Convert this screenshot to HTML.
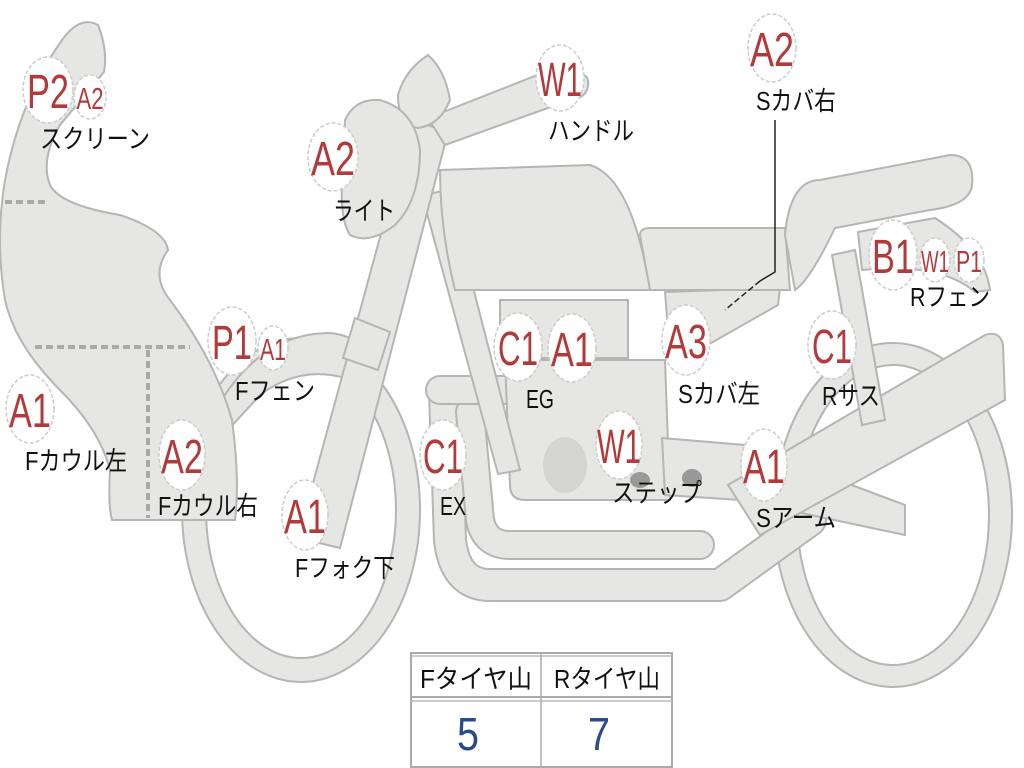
<!DOCTYPE html>
<html><head><meta charset="utf-8"><style>
html,body{margin:0;padding:0;background:#fff;width:1024px;height:768px;overflow:hidden}
svg{display:block}
.b{fill:#e6e6e4;stroke:#b5b5b5;stroke-width:2}
.l{font-family:"Liberation Sans","Noto Sans CJK JP",sans-serif;fill:#111;font-size:26px}
.r{font-family:"Liberation Sans",sans-serif;fill:#b23a3a}
.c{fill:#fff;stroke:#ccc;stroke-width:1.5;stroke-dasharray:4 2}
</style></head><body>
<svg width="1024" height="768" viewBox="0 0 1024 768">
<ellipse cx="301" cy="510" rx="119" ry="172" class="b"/>
<ellipse cx="301" cy="510" rx="95" ry="148" fill="#fff" stroke="#b5b5b5" stroke-width="2"/>
<ellipse cx="893" cy="515" rx="119" ry="172" class="b"/>
<ellipse cx="893" cy="515" rx="96" ry="150" fill="#fff" stroke="#b5b5b5" stroke-width="2"/>
<g fill="none" stroke-linejoin="round" stroke-linecap="round">
<path d="M445 392 L450 540 Q455 585 490 585 L720 585 L810 520" stroke="#b5b5b5" stroke-width="34"/>
<path d="M445 392 L450 540 Q455 585 490 585 L720 585 L810 520" stroke="#e6e6e4" stroke-width="30"/>
<path d="M470 412 L480 520 Q485 545 510 545 L700 545" stroke="#b5b5b5" stroke-width="30"/>
<path d="M470 412 L480 520 Q485 545 510 545 L700 545" stroke="#e6e6e4" stroke-width="26"/>
<path d="M440 390 L510 390" stroke="#b5b5b5" stroke-width="30"/>
<path d="M440 390 L510 390" stroke="#e6e6e4" stroke-width="26"/>
</g>
<path class="b" d="M505 360 L665 360 L670 500 L525 500 Q510 500 510 485 Z"/>
<rect class="b" x="500" y="300" width="128" height="58"/>
<ellipse cx="565" cy="465" rx="22" ry="28" fill="#d4d4d2"/>
<path class="b" d="M662 438 L745 445 L905 505 L905 535 L740 500 L665 495 Z"/>
<path class="b" d="M728 485 L985 335 Q1000 330 1003 345 L1005 400 L760 535 Z"/>
<ellipse cx="640" cy="480" rx="10" ry="8" fill="#999"/><ellipse cx="692" cy="478" rx="10" ry="9" fill="#999"/>
<path class="b" d="M832 255 L855 250 L885 420 L862 425 Z"/>
<path class="b" d="M858 232 L935 218 Q985 250 990 290 L975 292 Q940 262 862 270 Z"/>
<path class="b" d="M422 195 L448 190 L520 470 L498 474 Z"/>
<path class="b" d="M665 292 L780 288 L778 305 L690 355 L670 355 Z"/>
<path class="b" d="M440 170 L590 165 Q632 178 650 290 L455 290 Q440 230 440 170 Z"/>
<path class="b" d="M640 235 Q640 228 650 228 L785 228 L790 290 L650 290 Z"/>
<path class="b" d="M785 235 Q790 180 820 180 L950 155 Q975 155 972 185 Q970 205 930 210 L835 228 Q810 280 795 290 Z"/>
<path class="b" d="M210 420 Q255 333 330 333 Q350 335 360 345 L345 378 Q300 365 260 395 L228 430 Z"/>
<path class="b" d="M62 40 Q80 15 98 25 Q108 50 104 72 L60 125 Q40 160 50 185 Q60 205 120 215 Q165 230 168 250 Q150 275 170 300 Q215 360 232 420 Q240 480 235 520 L112 520 Q108 505 110 470 Q100 430 60 390 Q15 345 5 300 Q-5 240 5 180 Q20 100 62 40 Z"/>
<g stroke="#aaa" stroke-width="4" stroke-dasharray="7 4" fill="none">
<path d="M5 202 L48 202"/><path d="M35 347 L190 347"/><path d="M148 350 L148 518"/>
</g>
<path class="b" d="M412 120 L448 132 L340 548 L298 538 Z"/>
<path class="b" d="M355 318 L390 332 L378 370 L343 358 Z"/>
<path class="b" d="M428 118 L545 72 Q585 68 588 80 Q590 98 570 100 L445 145 Z"/>
<path class="b" d="M398 95 Q405 70 428 55 Q445 70 450 100 Q440 125 418 128 Q398 125 398 95 Z"/>
<path class="b" d="M345 120 Q355 98 380 100 Q415 110 420 150 Q420 200 395 225 Q370 245 350 235 Q340 220 342 180 Z"/>
<path d="M775 120 L775 272 L760 281" stroke="#222" stroke-width="1.5" fill="none"/>
<path d="M760 281 L725 310" stroke="#222" stroke-width="1.5" stroke-dasharray="6 3" fill="none"/>

<g class="c">
<ellipse cx="48" cy="90" rx="25" ry="33"/><ellipse cx="90" cy="97" rx="16" ry="22"/>
<ellipse cx="333" cy="157" rx="25" ry="34"/>
<ellipse cx="560" cy="78" rx="24" ry="33"/>
<ellipse cx="772" cy="48" rx="24" ry="34"/>
<ellipse cx="893" cy="255" rx="24" ry="35"/><ellipse cx="935" cy="260" rx="15" ry="22"/><ellipse cx="969" cy="260" rx="15" ry="22"/>
<ellipse cx="518" cy="347" rx="24" ry="34"/><ellipse cx="572" cy="348" rx="24" ry="34"/>
<ellipse cx="686" cy="340" rx="24" ry="35"/>
<ellipse cx="832" cy="345" rx="24" ry="34"/>
<ellipse cx="232" cy="341" rx="24" ry="34"/><ellipse cx="273" cy="348" rx="15" ry="22"/>
<ellipse cx="30" cy="409" rx="24" ry="34"/>
<ellipse cx="182" cy="455" rx="23" ry="35"/>
<ellipse cx="443" cy="455" rx="23" ry="35"/>
<ellipse cx="619" cy="445" rx="23" ry="34"/>
<ellipse cx="764" cy="465" rx="23" ry="36"/>
<ellipse cx="305" cy="515" rx="23" ry="35"/>
</g>
<g class="r" text-anchor="middle" font-size="48">
<text x="48" y="108" textLength="42" lengthAdjust="spacingAndGlyphs">P2</text>
<text x="90" y="109" font-size="31" textLength="27" lengthAdjust="spacingAndGlyphs">A2</text>
<text x="333" y="175" textLength="44" lengthAdjust="spacingAndGlyphs">A2</text>
<text x="560" y="96" textLength="44" lengthAdjust="spacingAndGlyphs">W1</text>
<text x="772" y="66" textLength="44" lengthAdjust="spacingAndGlyphs">A2</text>
<text x="893" y="273" textLength="42" lengthAdjust="spacingAndGlyphs">B1</text>
<text x="935" y="272" font-size="31" textLength="28" lengthAdjust="spacingAndGlyphs">W1</text>
<text x="969" y="272" font-size="31" textLength="26" lengthAdjust="spacingAndGlyphs">P1</text>
<text x="518" y="365" textLength="40" lengthAdjust="spacingAndGlyphs">C1</text>
<text x="572" y="366" textLength="42" lengthAdjust="spacingAndGlyphs">A1</text>
<text x="686" y="358" textLength="42" lengthAdjust="spacingAndGlyphs">A3</text>
<text x="832" y="363" textLength="40" lengthAdjust="spacingAndGlyphs">C1</text>
<text x="232" y="359" textLength="40" lengthAdjust="spacingAndGlyphs">P1</text>
<text x="273" y="360" font-size="31" textLength="26" lengthAdjust="spacingAndGlyphs">A1</text>
<text x="30" y="427" textLength="42" lengthAdjust="spacingAndGlyphs">A1</text>
<text x="182" y="473" textLength="42" lengthAdjust="spacingAndGlyphs">A2</text>
<text x="443" y="473" textLength="40" lengthAdjust="spacingAndGlyphs">C1</text>
<text x="619" y="463" textLength="44" lengthAdjust="spacingAndGlyphs">W1</text>
<text x="764" y="483" textLength="42" lengthAdjust="spacingAndGlyphs">A1</text>
<text x="305" y="533" textLength="42" lengthAdjust="spacingAndGlyphs">A1</text>
</g>
<g class="l">
<text x="40" y="148" textLength="110" lengthAdjust="spacingAndGlyphs">スクリーン</text>
<text x="333" y="220" textLength="62" lengthAdjust="spacingAndGlyphs">ライト</text>
<text x="548" y="140" textLength="86" lengthAdjust="spacingAndGlyphs">ハンドル</text>
<text x="756" y="110" textLength="80" lengthAdjust="spacingAndGlyphs">Sカバ右</text>
<text x="910" y="306" textLength="80" lengthAdjust="spacingAndGlyphs">Rフェン</text>
<text x="526" y="408" textLength="28" lengthAdjust="spacingAndGlyphs">EG</text>
<text x="678" y="403" textLength="82" lengthAdjust="spacingAndGlyphs">Sカバ左</text>
<text x="822" y="405" textLength="58" lengthAdjust="spacingAndGlyphs">Rサス</text>
<text x="235" y="400" textLength="80" lengthAdjust="spacingAndGlyphs">Fフェン</text>
<text x="25" y="470" textLength="102" lengthAdjust="spacingAndGlyphs">Fカウル左</text>
<text x="158" y="515" textLength="100" lengthAdjust="spacingAndGlyphs">Fカウル右</text>
<text x="440" y="515" textLength="26" lengthAdjust="spacingAndGlyphs">EX</text>
<text x="612" y="502" textLength="90" lengthAdjust="spacingAndGlyphs">ステップ</text>
<text x="756" y="527" textLength="80" lengthAdjust="spacingAndGlyphs">Sアーム</text>
<text x="295" y="577" textLength="100" lengthAdjust="spacingAndGlyphs">Fフォク下</text>
</g>
<rect x="411" y="653" width="261" height="114" fill="#fff" stroke="#aaa" stroke-width="2"/>
<line x1="411" y1="656" x2="672" y2="656" stroke="#bbb" stroke-width="1.5"/>
<line x1="411" y1="697" x2="672" y2="697" stroke="#aaa" stroke-width="2"/>
<line x1="411" y1="701" x2="672" y2="701" stroke="#bbb" stroke-width="1.5"/>
<line x1="541" y1="653" x2="541" y2="767" stroke="#aaa" stroke-width="1.5"/>
<text class="l" x="420" y="688" textLength="112" lengthAdjust="spacingAndGlyphs">Fタイヤ山</text>
<text class="l" x="554" y="688" textLength="106" lengthAdjust="spacingAndGlyphs">Rタイヤ山</text>
<text x="468" y="750" font-family="Liberation Sans,sans-serif" font-size="46" fill="#2b4a8a" text-anchor="middle" textLength="22" lengthAdjust="spacingAndGlyphs">5</text>
<text x="599" y="750" font-family="Liberation Sans,sans-serif" font-size="46" fill="#2b4a8a" text-anchor="middle" textLength="22" lengthAdjust="spacingAndGlyphs">7</text>
</svg>
</body></html>
